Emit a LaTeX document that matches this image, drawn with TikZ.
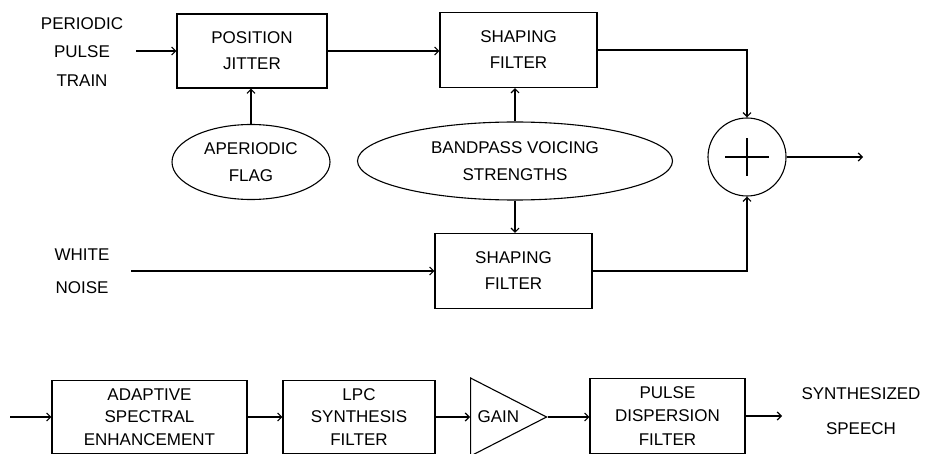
\documentclass[tikz,border=0pt]{standalone}
\usepackage{fontspec}
\setmainfont{Liberation Sans}
\usetikzlibrary{positioning,calc}
\usetikzlibrary{arrows.meta,shapes.geometric}
\tikzset{
  blk/.style={draw=black,line width=1.1pt,inner sep=0pt,align=center,
    font=\fontsize{17}{26}\selectfont},
  oval/.style={ellipse,draw=black,line width=1.1pt,inner sep=0pt,align=center,
    font=\fontsize{17}{27.5}\selectfont},
  lbl/.style={align=center,inner sep=0pt},
  sig/.style={draw=black,line width=1.1pt,-{Straight Barb[length=4pt,width=8pt,line width=1.2pt]}},
  wire/.style={draw=black,line width=1.1pt},
}

\begin{document}
\begin{tikzpicture}[x=1pt,y=-1pt]
\useasboundingbox (0,0) rectangle (925,454);
% excitation
\node[lbl,font=\fontsize{17}{28.5}\selectfont] (ppt) at (82,52) {PERIODIC\\PULSE\\TRAIN};
\node[blk,minimum width=150pt,minimum height=74pt] (jit) at (252,51) {POSITION\\JITTER};
\node[blk,minimum width=157pt,minimum height=75pt] (shpa) at (518.5,50) {SHAPING\\FILTER};
\node[oval,minimum width=158pt,minimum height=75pt] (apf) at (251,162) {APERIODIC\\FLAG};
\node[oval,minimum width=315pt,minimum height=78pt] (bvs) at (515,161) {BANDPASS VOICING\\STRENGTHS};
\node[circle,draw=black,line width=1.1pt,minimum size=78pt,inner sep=0pt] (sum) at (747,157) {};
\draw[line width=2pt] ([xshift=-22pt]sum.center) -- ([xshift=22pt]sum.center);
\draw[line width=2pt] ([yshift=-19pt]sum.center) -- ([yshift=19pt]sum.center);
\coordinate (exc) at (863,157);
\node[lbl,font=\fontsize{17}{33}\selectfont] (wn) at (82,271) {WHITE\\NOISE};
\node[blk,minimum width=157pt,minimum height=75pt] (shpb) at (513.5,271) {SHAPING\\FILTER};

\draw[sig] ([xshift=-40pt]jit.west) -- (jit.west);
\draw[sig] (jit.east) -- (jit.east -| shpa.west);
\draw[sig] (shpa.east) -| (sum.north);
\draw[sig] (apf.north) -- (apf.north |- jit.south);
\draw[sig] (bvs.north) -- (bvs.north |- shpa.south);
\draw[sig] (bvs.south) -- (bvs.south |- shpb.north);
\draw[sig] ([xshift=-303pt]shpb.west) -- (shpb.west);
\draw[sig] (shpb.east) -| (sum.south);
\draw[sig] (sum.east) -- (exc);

% synthesis
\coordinate (syn in) at (10,417);
\node[blk,minimum width=195pt,minimum height=73pt,font=\fontsize{17}{22.5}\selectfont] (ase) at (149.5,417) {ADAPTIVE\\SPECTRAL\\ENHANCEMENT};
\node[blk,minimum width=152pt,minimum height=73pt,font=\fontsize{17}{22.5}\selectfont] (lpc) at (359,417) {LPC\\SYNTHESIS\\FILTER};
\node[isosceles triangle,isosceles triangle stretches,draw=black,line width=1.1pt,
  minimum width=78pt,minimum height=76pt,inner sep=0pt,font=\fontsize{17}{20}\selectfont,
  anchor=lower side] (gain) at (470,417) {GAIN};
\node[blk,minimum width=155pt,minimum height=75pt,font=\fontsize{17}{23.5}\selectfont] (pdf) at (667.5,416) {PULSE\\DISPERSION\\FILTER};
\coordinate (syn out) at (782,416);
\node[lbl,font=\fontsize{17}{35}\selectfont] (speech) at (861,411) {SYNTHESIZED\\SPEECH};

\draw[sig] (syn in) -- (ase.west);
\draw[sig] (ase.east) -- (lpc.west);
\draw[sig] (lpc.east) -- (gain.lower side);
\draw[sig] (gain.apex) -- (gain.apex -| pdf.west);
\draw[sig] (pdf.east) -- (syn out);
\end{tikzpicture}
\end{document}
